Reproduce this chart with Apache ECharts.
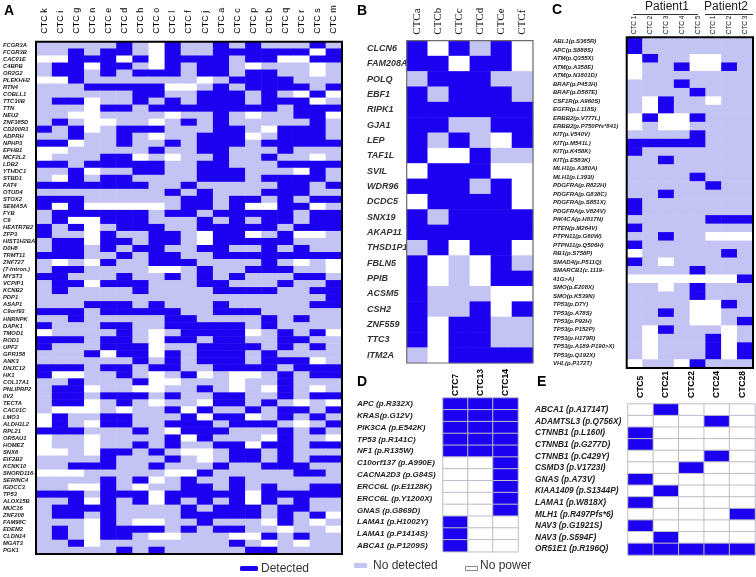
<!DOCTYPE html>
<html><head><meta charset="utf-8">
<script src="https://cdn.jsdelivr.net/npm/echarts@6/dist/echarts.min.js"></script>
<style>html,body{margin:0;padding:0;background:#fff}#c{width:756px;height:577px}</style>
</head><body><div id="c"></div>
<script>
// 2 = Detected, 1 = No detected, 0 = No power
const aCols = ['CTC k','CTC i','CTC g','CTC n','CTC e','CTC d','CTC h','CTC o','CTC l','CTC f','CTC j','CTC a','CTC c','CTC p','CTC b','CTC q','CTC r','CTC s','CTC m'];
const aRows = ['FCGR3A','FCGR3B','CAC01E','C4BPB','OR2G2','PLEKHH2','RTN4','COBLL1','TTC30B','TTN','NEU2','ZNF385D','CD200R1','ADPRH','NPHP3','EPHB1','MCF2L2','LDB2','YTHDC1','STBD1','FAT4','OTUD4','STOX2','SEMA5A','FYB','C9','HEATR7B2','ZFP3','HIST1H2BA','D0H8','TRMT11','ZNF727','(7-Intron.)','MYST3','VCPIP1','KCNB2','PDP1','ASAP1','C9orf93','HNRNPK','DAPK1','TMOD1','ROD1','UPF2','GPR158','ANK3','DNJC12','HK1','COL17A1','PNLIPRP2','0V2','TECTA','CAC01C','LMO3','ALDH1L2','RPL21','OR5AU1','HOMEZ','SNX6','EIF2B2','KCNK10','SNORD116-','SERINC4','IGDCC3','TP53','ALOX15B','MUC16','ZNF208','FAM98C','EDEM2','CLDN14','MGAT3','PGK1'];
const aValues = [
[1,1,1,1,1,2,1,0,2,1,1,2,1,2,1,1,1,2,1],
[1,1,2,1,2,2,1,0,2,1,1,2,2,2,2,2,2,0,2],
[0,0,2,2,2,0,2,0,2,2,2,2,1,2,2,0,0,2,2],
[1,2,2,0,2,2,1,0,2,1,2,2,1,0,1,1,1,0,1],
[1,2,2,1,2,1,2,2,2,1,2,2,1,2,2,1,1,0,1],
[0,0,2,1,1,1,1,1,1,1,0,1,2,2,2,2,1,1,1],
[1,1,1,2,2,2,2,2,0,0,1,2,1,2,2,2,2,1,2],
[1,1,1,1,1,1,2,2,1,1,2,2,2,1,2,1,0,2,0],
[1,2,2,0,1,1,2,1,2,1,2,2,2,1,2,2,2,0,1],
[1,1,1,0,2,2,1,2,2,2,2,2,2,2,2,1,2,2,2],
[1,1,0,0,1,1,1,1,0,1,1,2,1,0,1,1,2,2,0],
[1,2,1,0,0,1,1,0,1,2,1,2,1,1,1,1,1,2,1],
[2,1,2,0,1,2,2,2,1,1,1,2,2,1,0,2,2,2,1],
[1,1,2,1,1,2,1,0,1,1,2,2,2,0,1,2,2,2,1],
[2,2,0,1,1,2,1,1,2,1,2,2,2,1,2,2,2,2,2],
[0,0,1,1,1,1,1,2,1,1,2,2,1,1,1,2,1,1,1],
[0,1,1,1,2,2,0,1,0,1,1,2,1,1,2,1,1,0,1],
[2,2,1,2,2,2,2,2,1,1,2,2,1,1,1,2,2,2,2],
[1,1,2,0,1,1,2,2,1,1,2,2,2,1,1,1,0,2,1],
[1,0,2,1,2,2,1,1,1,1,2,2,2,1,2,2,2,2,1],
[2,2,2,2,2,2,2,1,1,2,1,1,1,1,1,2,2,1,2],
[1,1,1,1,1,1,1,1,2,1,2,1,1,1,2,2,2,1,1],
[2,2,2,1,1,1,1,1,1,2,2,1,2,2,1,2,1,2,2],
[2,0,2,0,0,0,0,0,1,2,2,1,2,0,0,2,2,0,1],
[1,2,2,2,2,2,2,1,2,2,1,2,2,2,2,2,1,2,2],
[1,2,0,0,2,2,2,1,1,1,2,1,2,1,2,2,1,2,2],
[2,1,2,0,1,2,2,2,1,1,2,2,2,2,2,1,2,2,2],
[2,1,1,0,2,1,1,2,2,1,0,2,2,0,1,2,0,0,1],
[1,2,2,0,2,2,1,2,2,1,0,2,2,2,2,2,1,1,1],
[1,2,2,1,2,1,2,2,1,1,2,2,1,1,2,1,2,1,1],
[2,2,2,1,1,2,1,2,2,1,1,2,2,2,2,2,2,2,2],
[1,0,1,0,2,1,1,2,2,2,1,1,1,1,2,1,0,1,0],
[1,2,2,1,1,1,1,0,0,1,2,1,1,2,2,2,1,1,0],
[2,2,1,1,1,2,1,1,2,1,2,1,2,1,1,1,2,2,1],
[1,2,2,0,2,2,2,1,1,1,2,2,1,1,1,2,1,1,2],
[1,2,1,1,1,1,2,1,1,1,1,2,2,2,2,1,1,2,2],
[1,1,1,1,1,1,1,1,1,1,1,1,1,1,1,1,1,1,2],
[1,1,1,2,2,2,1,2,1,1,1,2,1,1,1,1,1,2,2],
[2,2,2,1,2,2,2,2,2,1,1,2,2,2,1,1,1,1,1],
[1,1,2,1,1,1,1,1,2,2,1,1,1,1,2,1,2,1,1],
[2,1,1,1,2,2,1,1,2,2,2,2,2,1,2,1,1,1,1],
[0,1,1,1,1,2,1,0,1,2,2,2,2,0,1,2,1,2,0],
[2,2,2,1,2,2,1,0,2,2,1,2,2,1,1,2,2,1,1],
[2,1,1,1,2,2,2,0,1,1,2,2,2,2,1,2,1,2,1],
[1,1,1,2,0,2,2,0,2,1,2,2,2,1,2,1,1,1,1],
[1,1,1,1,1,1,2,1,2,1,2,2,2,1,2,2,2,0,1],
[2,2,2,1,2,2,1,2,2,1,1,2,2,2,2,1,2,2,2],
[2,0,0,1,1,2,1,0,1,2,0,1,0,0,1,2,1,2,2],
[1,1,2,1,1,1,2,0,0,1,1,1,0,1,1,2,1,1,1],
[1,2,2,0,1,1,0,0,1,1,2,1,0,1,0,2,1,0,1],
[1,2,2,1,2,2,2,1,2,1,1,2,2,1,1,2,1,2,2],
[1,2,2,0,1,2,1,0,1,1,0,2,2,1,2,1,0,1,0],
[1,0,0,0,1,0,1,1,2,0,2,1,1,2,1,2,2,1,2],
[0,2,1,1,2,2,1,1,1,2,0,2,2,0,1,2,1,2,1],
[0,2,1,0,2,2,1,1,2,2,2,1,2,2,2,1,0,1,2],
[2,2,2,1,1,1,2,1,0,2,2,2,1,1,1,2,1,2,1],
[0,1,1,0,1,1,1,1,2,0,2,1,1,1,0,2,1,1,0],
[0,1,1,0,1,1,2,1,2,1,1,2,2,0,2,2,1,2,2],
[0,0,1,0,2,2,1,2,1,0,0,1,2,2,1,2,1,1,1],
[1,1,1,1,2,1,1,1,2,1,0,1,2,2,1,2,1,2,2],
[1,1,2,2,2,1,1,2,1,1,1,2,1,1,2,2,2,1,1],
[0,0,0,1,1,1,1,1,0,0,2,1,1,1,1,1,2,2,1],
[1,1,1,1,2,1,2,0,1,2,1,1,2,1,1,1,1,1,1],
[1,1,0,0,2,1,0,1,1,2,2,1,2,1,2,1,1,2,2],
[2,2,2,1,2,2,2,0,2,2,2,2,2,0,2,2,2,2,2],
[1,1,2,0,2,1,2,0,2,1,2,1,2,0,2,1,2,1,1],
[1,2,2,2,2,1,1,1,1,2,1,2,2,2,1,2,2,1,1],
[1,2,2,1,2,1,1,1,1,2,2,2,2,2,1,2,1,2,0],
[1,1,1,0,2,1,0,0,1,1,2,1,1,1,0,2,1,0,1],
[1,2,1,0,2,2,2,2,1,2,1,2,2,1,1,0,1,1,0],
[1,2,1,0,2,2,1,0,0,1,1,1,0,0,2,1,2,1,1],
[1,1,2,0,1,1,1,1,1,1,1,1,2,1,0,1,0,1,1],
[1,1,1,1,1,2,1,2,1,1,1,1,1,2,2,1,1,1,1]
];

const bCols = ['CTCa','CTCb','CTCc','CTCd','CTCe','CTCf'];
const bRows = ['CLCN6','FAM208A','POLQ','EBF1','RIPK1','GJA1','LEP','TAF1L','SVIL','WDR96','DCDC5','SNX19','AKAP11','THSD1P1','FBLN5','PPIB','ACSM5','CSH2','ZNF559','TTC3','ITM2A'];
const bValues = [
[2,0,2,1,2,0],[2,2,0,2,2,0],[1,2,2,2,1,1],[2,1,2,2,2,1],[2,2,2,2,2,2],[2,2,1,1,2,2],[2,1,2,1,0,2],
[2,0,0,2,1,1],[0,2,2,2,0,0],[2,2,2,1,2,0],[0,2,2,2,2,0],[2,1,2,2,2,2],[2,2,2,2,2,2],[1,2,0,2,2,0],
[2,0,1,0,2,1],[2,0,1,0,2,2],[2,1,1,1,0,0],[2,1,1,2,0,2],[2,0,2,2,1,1],[2,0,2,2,1,1],[1,0,2,2,2,2]
];

const cCols = ['CTC 1','CTC 2','CTC 3','CTC 4','CTC 5','CTC 1','CTC 2','CTC 3'];
const cGroups = ['Patient1','Patient2'];
const cRows = ['ABL1(p.S365R)','APC(p.S888S)','ATM(p.Q355X)','ATM(p.A358E)','ATM(p.N1801D)','BRAF(p.P453H)','BRAF(p.D587E)','CSF1R(p.A960S)','EGFR(p.L118S)','ERBB2(p.V777L)','ERBB2(p.P750Pfs*841)','KIT(p.V540V)','KIT(p.M541L)','KIT(p.K458K)','KIT(p.E583K)','MLH1(p.A380A)','MLH1(p.L393I)','PDGFRA(p.R822H)','PDGFRA(p.G838C)','PDGFRA(p.S851X)','PDGFRA(p.V824V)','PIK4CA(p.H817N)','PTEN(p.M264V)','PTPN11(p.G60W)','PTPN11(p.Q506H)','RB1(p.S758P)','SMAD4(p.P511Q)','SMARCB1(c.1119-','41G>A)','SMO(p.E208X)','SMO(p.K539N)','TP53(p.D7Y)','TP53(p.A78S)','TP53(p.P92H)','TP53(p.P152P)','TP53(p.H179R)','TP53(p.A189-P190>X)','TP53(p.Q192X)','VHL(p.P172T)'];
const cValues = [
[2,1,1,1,1,1,1,1],[2,1,1,1,1,1,1,1],[0,2,1,1,0,0,1,1],[0,1,1,2,0,0,2,1],[0,1,1,1,1,1,1,1],
[1,1,1,2,1,1,1,1],[1,1,1,1,2,1,1,1],[1,0,2,1,1,0,1,1],[1,0,2,1,1,1,1,1],[0,2,0,0,2,1,1,1],
[0,1,0,0,1,1,1,1],[1,1,1,1,2,1,1,1],[2,2,2,2,2,1,1,1],[2,1,1,1,1,1,1,1],[1,1,2,1,1,1,1,1],
[1,1,1,1,1,1,1,1],[1,1,1,1,2,1,1,1],[1,1,1,1,1,2,1,1],[1,1,2,1,1,1,1,1],[2,1,1,1,1,1,1,1],
[2,1,1,1,1,1,1,1],[1,1,1,1,1,2,2,2],[2,1,1,1,1,1,1,1],[1,1,2,1,1,0,0,0],[2,1,1,1,1,1,1,1],
[0,1,1,1,1,1,2,1],[2,1,0,1,1,1,1,1],[1,1,1,1,2,1,1,1],[0,0,0,0,0,0,0,2],[1,1,0,1,2,1,1,1],
[1,1,1,1,2,1,1,1],[1,1,1,1,0,0,2,1],[1,1,2,1,0,0,1,1],[1,1,1,1,0,0,1,2],[1,0,2,1,1,1,0,1],
[1,0,1,1,1,2,0,1],[1,0,1,1,1,2,0,2],[1,0,1,1,1,2,0,2],[0,1,1,0,2,1,1,1]
];

const dCols = ['CTC7','CTC13','CTC14'];
const dRows = ['APC (p.R332X)','KRAS(p.G12V)','PIK3CA (p.E542K)','TP53 (p.R141C)','NF1 (p.R135W)','C10orf137 (p.A990E)','CACNA2D3 (p.G84S)','ERCC6L (p.E1128K)','ERCC6L (p.Y1200X)','GNAS (p.G869D)','LAMA1 (p.H1002Y)','LAMA1 (p.P1414S)','ABCA1 (p.P1209S)'];
const dValues = [[2,2,2],[2,2,2],[2,2,2],[2,2,2],[2,2,2],[0,0,2],[0,0,2],[0,0,2],[0,0,2],[0,0,2],[2,0,0],[2,0,0],[2,0,0]];

const eCols = ['CTC5','CTC21','CTC22','CTC24','CTC28'];
const eRows = ['ABCA1 (p.A1714T)','ADAMTSL3 (p.Q756X)','CTNNB1 (p.L160I)','CTNNB1 (p.G277D)','CTNNB1 (p.C429Y)','CSMD3 (p.V1723I)','GNAS (p.A73V)','KIAA1409 (p.S1344P)','LAMA1 (p.W818X)','MLH1 (p.R497Pfs*6)','NAV3 (p.G1921S)','NAV3 (p.S594F)','OR51E1 (p.R196Q)'];
const eValues = [[0,2,0,0,0],[0,0,0,2,0],[2,0,0,0,0],[2,0,0,0,0],[0,0,0,2,0],[0,0,2,0,0],[2,0,0,0,0],[0,2,0,0,0],[2,0,0,0,0],[0,0,0,0,2],[2,0,0,0,0],[0,2,0,0,0],[2,2,2,2,2]];

const legendNames = ['Detected','No detected','No power'];

const BLUE = '#1c00f0', LIGHT = '#c4c4f4', WHITE = '#ffffff';
const SANS = 'Liberation Sans', SERIF = 'Liberation Serif';

function cells(m){ const out=[]; m.forEach((row,y)=>row.forEach((v,x)=>out.push([x,y,v]))); return out; }

const grids = [
  {left:35, top:41.7, width:307, height:512.3, show:true, z:5, borderColor:'#000', borderWidth:2, backgroundColor:'transparent'},
  {left:406.7, top:40.7, width:126.3, height:322.3, show:true, z:5, borderColor:'#6b6b6b', borderWidth:1.2, backgroundColor:'transparent'},
  {left:626.7, top:37.3, width:126.3, height:330.7, show:true, z:5, borderColor:'#000', borderWidth:2, backgroundColor:'transparent'},
  {left:443, top:398, width:75, height:153.7, show:false},
  {left:628, top:404, width:127, height:151, show:false}
];

function xAx(gi, data, o){
  return {type:'category', gridIndex:gi, data, position:'top',
    axisLine:{show:false}, axisTick:{show:false}, splitLine:{show:false},
    axisLabel:Object.assign({interval:0, rotate:-90, color:'#111', fontFamily:SANS}, o)};
}
function yAx(gi, data, o){
  return {type:'category', gridIndex:gi, data, inverse:true,
    axisLine:{show:false}, axisTick:{show:false}, splitLine:{show:false},
    axisLabel:Object.assign({interval:0, align:'left', fontStyle:'italic', fontWeight:'bold', fontFamily:SANS}, o)};
}

const xAxes = [
  xAx(0, aCols, {fontSize:9, margin:8, color:'#000'}),
  xAx(1, bCols, {fontSize:11, margin:6, fontFamily:SERIF, color:'#000'}),
  xAx(2, cCols, {fontSize:6.5, margin:3, color:'#111'}),
  xAx(3, dCols, {fontSize:8.5, margin:2, fontWeight:'bold', color:'#000'}),
  xAx(4, eCols, {fontSize:8.5, margin:6, fontWeight:'bold', color:'#000'})
];
const yAxes = [
  yAx(0, aRows, {fontSize:5.8, margin:33, color:'#222'}),
  yAx(1, bRows, {fontSize:9, margin:39.7, color:'#333'}),
  yAx(2, cRows, {fontSize:6, margin:73.7, color:'#222', padding:[3,0,0,0]}),
  yAx(3, dRows, {fontSize:8, margin:86, color:'#222'}),
  yAx(4, eRows, {fontSize:8.3, margin:93, color:'#222'})
];

function hm(i, m, border){
  return {type:'heatmap', xAxisIndex:i, yAxisIndex:i, data:cells(m), progressive:0,
    itemStyle: border ? {borderColor:'#bdbdc8', borderWidth:1} : {borderWidth:0},
    emphasis:{disabled:true}};
}

const letter = (t,x,y)=>({type:'text', left:x, top:y, style:{text:t, font:'bold 14px "Liberation Sans"', fill:'#000'}});
const ltxt = (t,x,y)=>({type:'text', left:x, top:y, style:{text:t, font:'12px "Liberation Sans"', fill:'#333'}});

const option = {
  animation:false,
  backgroundColor:'#fff',
  grid: grids,
  xAxis: xAxes,
  yAxis: yAxes,
  visualMap: {type:'piecewise', show:false, dimension:2, seriesIndex:[0,1,2,3,4],
    pieces:[{value:0,color:WHITE},{value:1,color:LIGHT},{value:2,color:BLUE}]},
  series: [hm(0,aValues,false), hm(1,bValues,false), hm(2,cValues,false), hm(3,dValues,true), hm(4,eValues,true)],
  graphic: [
    letter('A',4,4), letter('B',357,4), letter('C',552,3), letter('D',357,375), letter('E',537,375),
    {type:'text', left:645, top:1, style:{text:cGroups[0], font:'12px "Liberation Sans"', fill:'#222'}},
    {type:'text', left:704, top:1, style:{text:cGroups[1], font:'12px "Liberation Sans"', fill:'#222'}},
    {type:'line', shape:{x1:633,y1:14.5,x2:698,y2:14.5}, style:{stroke:'#333', lineWidth:1}},
    {type:'line', shape:{x1:705,y1:14.5,x2:753,y2:14.5}, style:{stroke:'#333', lineWidth:1}},
    {type:'rect', shape:{x:240,y:566,width:18,height:5,r:1.5}, style:{fill:BLUE}},
    ltxt(legendNames[0],261,563),
    {type:'rect', shape:{x:354,y:563,width:13,height:5,r:1}, style:{fill:LIGHT}},
    ltxt(legendNames[1],373,560),
    {type:'rect', shape:{x:465.5,y:566.5,width:12,height:4}, style:{fill:'#fff', stroke:'#888', lineWidth:1}},
    ltxt(legendNames[2],480,559.5)
  ]
};
const chart = echarts.init(document.getElementById('c'), null, {renderer:'canvas'});
chart.setOption(option);
</script></body></html>
